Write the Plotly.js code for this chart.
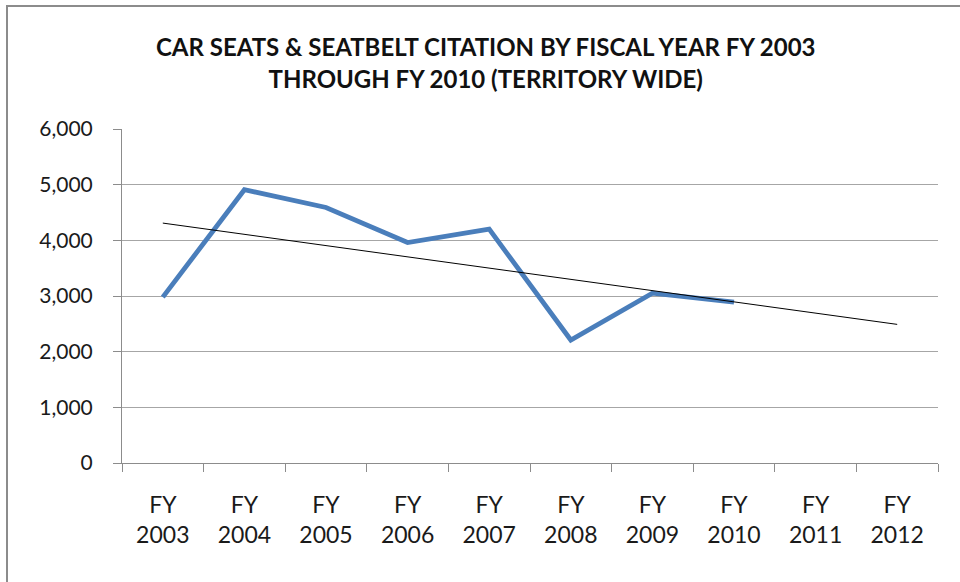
<!DOCTYPE html>
<html>
<head>
<meta charset="utf-8">
<script src="https://cdn.plot.ly/plotly-3.0.1.min.js"></script>
<style>
  html, body { margin: 0; padding: 0; background: #fff; }
  #wrap { position: relative; width: 960px; height: 582px; }
  #chart { width: 960px; height: 582px; }
  #frame { position: absolute; left: 6px; top: 5px; right: 0; bottom: 0;
           border-left: 2px solid #8c8c8c; border-top: 2px solid #8c8c8c; pointer-events: none; }
</style>
</head>
<body>
<div id="wrap">
  <div id="chart"></div>
  <div id="frame"></div>
</div>
<script>
const categories = ["FY 2003","FY 2004","FY 2005","FY 2006","FY 2007","FY 2008","FY 2009","FY 2010","FY 2011","FY 2012"];
const tickLabels = ["FY<br>2003","FY<br>2004","FY<br>2005","FY<br>2006","FY<br>2007","FY<br>2008","FY<br>2009","FY<br>2010","FY<br>2011","FY<br>2012"];
const citationYears = ["FY 2003","FY 2004","FY 2005","FY 2006","FY 2007","FY 2008","FY 2009","FY 2010"];
const citations = [2980, 4910, 4590, 3960, 4200, 2210, 3050, 2890];
const trendYears = ["FY 2003","FY 2012"];
const trendValues = [4310, 2490];
const yTicks = [0, 1000, 2000, 3000, 4000, 5000, 6000];
const yTickLabels = ["0","1,000","2,000","3,000","4,000","5,000","6,000"];

const traces = [
  {
    x: citationYears, y: citations, type: "scatter", mode: "lines",
    line: { color: "#4a7ebb", width: 4.8 }, name: "Citations", hoverinfo: "x+y"
  },
  {
    x: trendYears, y: trendValues, type: "scatter", mode: "lines",
    line: { color: "#000000", width: 1 }, name: "Linear trend", hoverinfo: "skip"
  }
];

const layout = {
  width: 960, height: 582,
  margin: { l: 122, r: 22, t: 129, b: 119 },
  paper_bgcolor: "#ffffff", plot_bgcolor: "#ffffff",
  showlegend: false,
  font: { family: "Lato, 'Open Sans', sans-serif", color: "#222222" },
  title: {
    text: "CAR SEATS & SEATBELT CITATION BY FISCAL YEAR FY 2003<br>THROUGH FY 2010 (TERRITORY WIDE)",
    font: { family: "Lato, 'Open Sans', sans-serif", size: 24, color: "#111111", weight: "bold" },
    x: 0.506, xref: "container", xanchor: "center",
    y: 0.903, yref: "container", yanchor: "middle"
  },
  xaxis: {
    type: "category",
    categoryorder: "array", categoryarray: categories,
    tickmode: "array", tickvals: categories, ticktext: tickLabels,
    range: [-0.5, 9.5],
    tickson: "boundaries",
    ticks: "outside", ticklen: 8, tickcolor: "#8c8c8c", tickwidth: 1,
    showgrid: false, zeroline: false,
    showline: true, linecolor: "#8c8c8c", linewidth: 1,
    tickfont: { size: 23, color: "#1a1a1a" },
    ticklabelstandoff: 21,
    fixedrange: true
  },
  yaxis: {
    range: [0, 6000],
    tickmode: "array", tickvals: yTicks, ticktext: yTickLabels,
    ticks: "outside", ticklen: 8, tickcolor: "#8c8c8c", tickwidth: 1,
    showgrid: true, gridcolor: "#a6a6a6", gridwidth: 1,
    zeroline: false,
    showline: true, linecolor: "#8c8c8c", linewidth: 1,
    tickfont: { size: 21, color: "#1a1a1a" },
    ticklabelstandoff: 16,
    fixedrange: true
  }
};

Plotly.newPlot("chart", traces, layout, { staticPlot: true, displayModeBar: false });
</script>
</body>
</html>
